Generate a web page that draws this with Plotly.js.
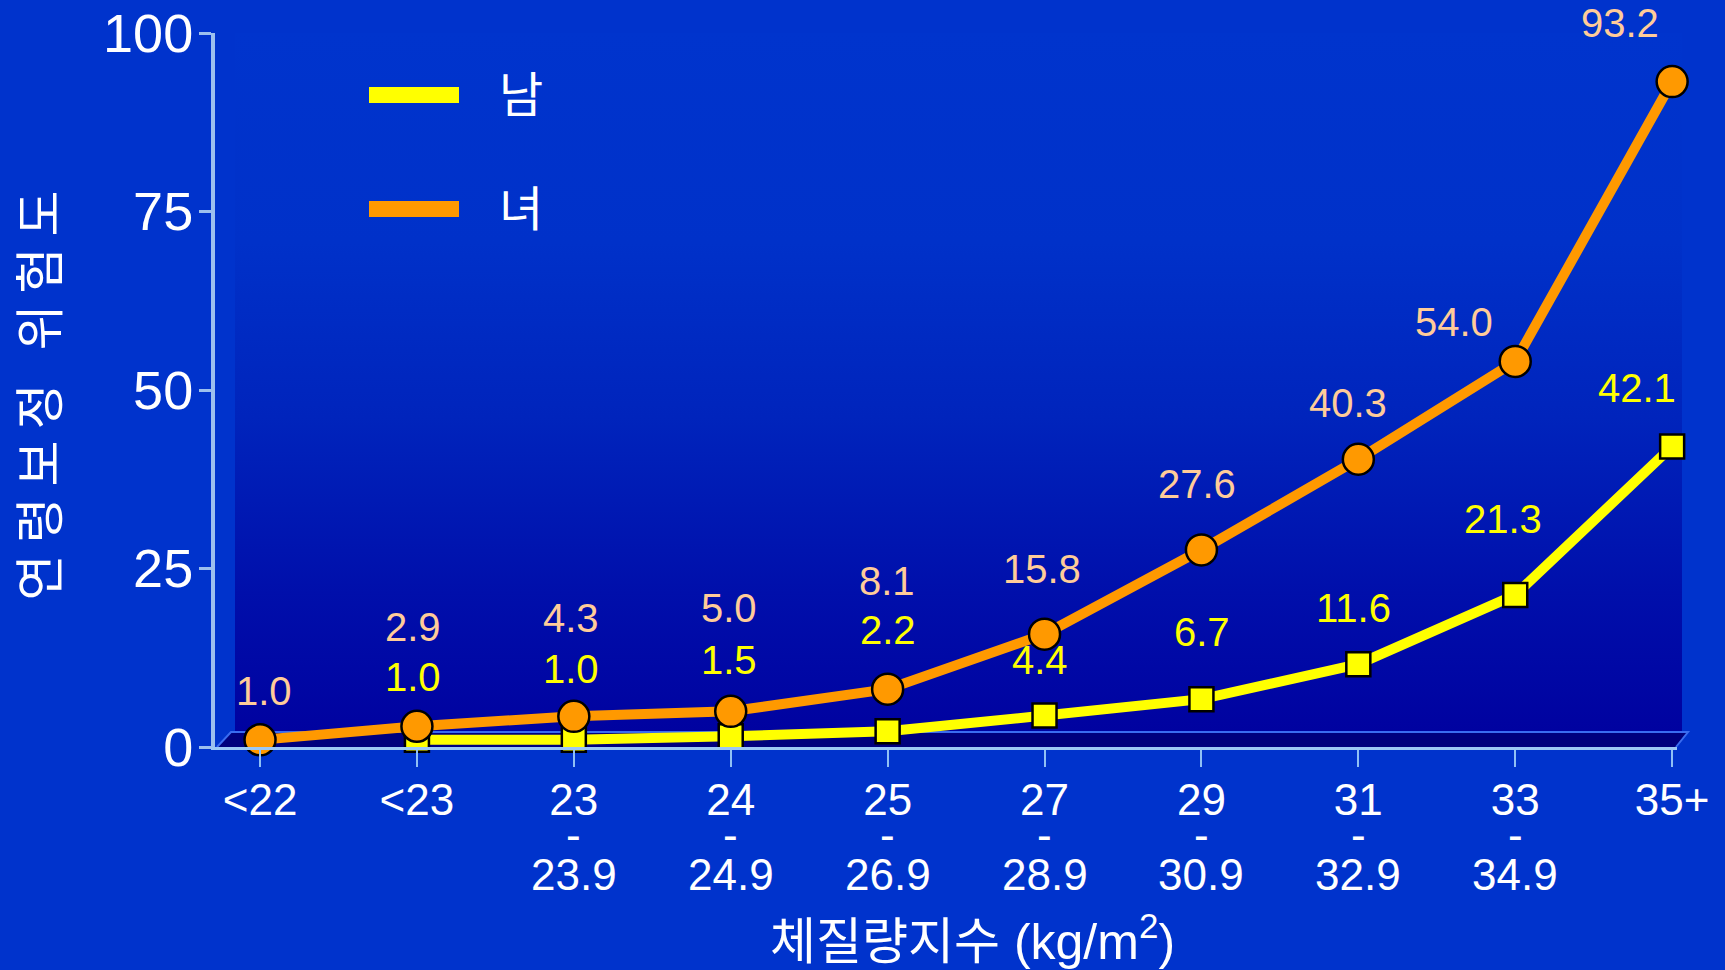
<!DOCTYPE html>
<html>
<head>
<meta charset="utf-8">
<script src="https://cdn.plot.ly/plotly-3.0.1.min.js"></script>
<style>
  html, body { margin: 0; padding: 0; background: #0033cc; }
  #wrap { position: relative; width: 1725px; height: 970px; overflow: hidden; background: #0033cc; }
  #wall { position: absolute; }
  #chart { position: absolute; left: 0; top: 0; width: 1725px; height: 970px; }
  /* the vertical axis title is set with wide letter spacing */
  #chart .ytitle { letter-spacing: 11px; }
</style>
</head>
<body>
<div id="wrap"><div id="wall"></div><div id="chart"></div></div>
<script>
// BMI groups (category keys) and their two-line tick text
const categories = ['<22', '<23', '23-23.9', '24-24.9', '25-26.9', '27-28.9', '29-30.9', '31-32.9', '33-34.9', '35+'];
const bmiFrom = ['<22', '<23', '23', '24', '25', '27', '29', '31', '33', '35+'];
const bmiTo   = ['', '', '23.9', '24.9', '26.9', '28.9', '30.9', '32.9', '34.9', ''];

// age-adjusted relative risk
const menCategories = categories.slice(1);
const menRisk   = [1.0, 1.0, 1.5, 2.2, 4.4, 6.7, 11.6, 21.3, 42.1];
const womenRisk = [1.0, 2.9, 4.3, 5.0, 8.1, 15.8, 27.6, 40.3, 54.0, 93.2];

const yTicks = [0, 25, 50, 75, 100];
const seriesNames = ['남', '녀'];
const xTitle = '체질량지수 (kg/m<sup>2</sup>)';
const yTitle = '연령보정 위험도';

// value-label placement relative to each marker, in pixels [dx, dy] (dy < 0 is up)
const menLabelNudge   = [[-4, -63], [-3, -71], [-2, -76], [0, -101], [-5, -56], [1, -67], [-5, -56], [-12, -76], [-35, -58]];
const womenLabelNudge = [[4, -49], [-4, -99], [-3, -98], [-2, -103], [-1, -108], [-3, -65], [-4, -66], [-10, -56], [-61, -39], [-52, -59]];

// ---- layout geometry ----
const FIG_W = 1725, FIG_H = 970;
const M = { l: 215, r: 48, t: 33, b: 223 };
const PW = FIG_W - M.l - M.r, PH = FIG_H - M.t - M.b;
const px = x => (x - M.l) / PW;            // pixel x -> paper x
const py = y => (FIG_H - M.b - y) / PH;    // pixel y -> paper y
const baseY = FIG_H - M.b;                 // floor front edge

const FONT = 'Liberation Sans, Arial, "Noto Sans CJK KR", sans-serif';
const MEN = '#ffff00', WOMEN = '#ff9900', WOMEN_TXT = '#ffcc99';

// gradient back wall behind the plot
const wall = document.getElementById('wall');
Object.assign(wall.style, {
  left: (M.l + 20) + 'px', top: M.t + 'px',
  width: (FIG_W - M.r + 5 - (M.l + 20)) + 'px', height: (baseY - 15 - M.t) + 'px',
  background: 'linear-gradient(to bottom, #0034cd 0%, #0031c9 30%, #0024bc 55%, #000fab 80%, #0002a0 100%)'
});

const traces = [
  {
    type: 'scatter', mode: 'lines+markers', name: seriesNames[0],
    x: menCategories, y: menRisk,
    line: { color: MEN, width: 10 },
    marker: { symbol: 'square', size: 24, color: MEN, line: { color: '#000000', width: 2.5 } },
    cliponaxis: false, hoverinfo: 'skip'
  },
  {
    type: 'scatter', mode: 'lines+markers', name: seriesNames[1],
    x: categories, y: womenRisk,
    line: { color: WOMEN, width: 10 },
    marker: { symbol: 'circle', size: 31, color: WOMEN, line: { color: '#000000', width: 2.5 } },
    cliponaxis: false, hoverinfo: 'skip'
  }
];

const annotations = [];
menRisk.forEach((v, i) => annotations.push({
  x: menCategories[i], y: v, xref: 'x', yref: 'y', text: v.toFixed(1), showarrow: false,
  xshift: menLabelNudge[i][0], yshift: -menLabelNudge[i][1],
  font: { family: FONT, size: 40, color: MEN }
}));
womenRisk.forEach((v, i) => annotations.push({
  x: categories[i], y: v, xref: 'x', yref: 'y', text: v.toFixed(1), showarrow: false,
  xshift: womenLabelNudge[i][0], yshift: -womenLabelNudge[i][1],
  font: { family: FONT, size: 40, color: WOMEN_TXT }
}));
// second and third lines of the range tick labels
bmiTo.forEach((t, i) => {
  if (!t) return;
  annotations.push({
    x: categories[i], y: 0, xref: 'x', yref: 'paper', yanchor: 'middle', text: '-', showarrow: false,
    yshift: -87, font: { family: FONT, size: 44, color: '#ffffff' }
  });
  annotations.push({
    x: categories[i], y: 0, xref: 'x', yref: 'paper', yanchor: 'middle', text: t, showarrow: false,
    yshift: -127, font: { family: FONT, size: 44, color: '#ffffff' }
  });
});
// horizontal axis title, centred under the tick labels
annotations.push({
  x: px(972), y: py(938), xref: 'paper', yref: 'paper', xanchor: 'center', yanchor: 'middle',
  text: xTitle, showarrow: false, font: { family: FONT, size: 50, color: '#ffffff' }
});
// legend labels
[91, 205].forEach((yy, i) => annotations.push({
  x: px(521), y: py(yy), xref: 'paper', yref: 'paper', text: seriesNames[i], showarrow: false,
  xanchor: 'center', yanchor: 'middle', font: { family: '"Noto Sans CJK KR", sans-serif', size: 48, color: '#ffffff' }
}));

const shapes = [
  // floor slab
  { type: 'path', xref: 'paper', yref: 'paper', layer: 'below',
    path: `M ${px(217)},${py(baseY)} L ${px(231)},${py(baseY - 15)} L ${px(1688)},${py(baseY - 15)} L ${px(1676)},${py(baseY)} Z`,
    fillcolor: '#00007e', line: { width: 0 } },
  { type: 'path', xref: 'paper', yref: 'paper', layer: 'below',
    path: `M ${px(217)},${py(baseY)} L ${px(231)},${py(baseY - 15)} L ${px(1688)},${py(baseY - 15)} L ${px(1676)},${py(baseY)}`,
    line: { color: '#3a6cf0', width: 2 } },
  // legend keys
  { type: 'line', xref: 'paper', yref: 'paper', x0: px(369), x1: px(459), y0: py(95), y1: py(95),
    line: { color: MEN, width: 16 } },
  { type: 'line', xref: 'paper', yref: 'paper', x0: px(369), x1: px(459), y0: py(209), y1: py(209),
    line: { color: WOMEN, width: 16 } }
];

const layout = {
  width: FIG_W, height: FIG_H,
  margin: M,
  paper_bgcolor: 'rgba(0,0,0,0)', plot_bgcolor: 'rgba(0,0,0,0)',
  showlegend: false,
  font: { family: FONT, color: '#ffffff' },
  xaxis: {
    type: 'category', categoryorder: 'array', categoryarray: categories,
    range: [-0.287, 9.031], fixedrange: true,
    tickmode: 'array', tickvals: categories, ticktext: bmiFrom,
    tickfont: { family: FONT, size: 44, color: '#ffffff' },
    ticks: 'outside', ticklen: 17, tickwidth: 2, tickcolor: '#8fc0f5',
    ticklabelstandoff: -5,
    showline: true, linecolor: '#9cc8f5', linewidth: 3,
    showgrid: false, zeroline: false
  },
  yaxis: {
    range: [0, 100], fixedrange: true,
    tickmode: 'array', tickvals: yTicks, ticktext: yTicks.map(String),
    tickfont: { family: FONT, size: 54, color: '#ffffff' },
    ticks: 'outside', ticklen: 12, tickwidth: 3, tickcolor: '#9cc0ee',
    ticklabelstandoff: -5,
    showline: true, linecolor: '#9cc0ee', linewidth: 4,
    showgrid: false, zeroline: false,
    title: { text: yTitle, standoff: 54, font: { family: '"Noto Sans CJK KR", sans-serif', size: 50, color: '#ffffff' } }
  },
  shapes: shapes,
  annotations: annotations
};

Plotly.newPlot('chart', traces, layout, { staticPlot: true, displayModeBar: false });
</script>
</body>
</html>
